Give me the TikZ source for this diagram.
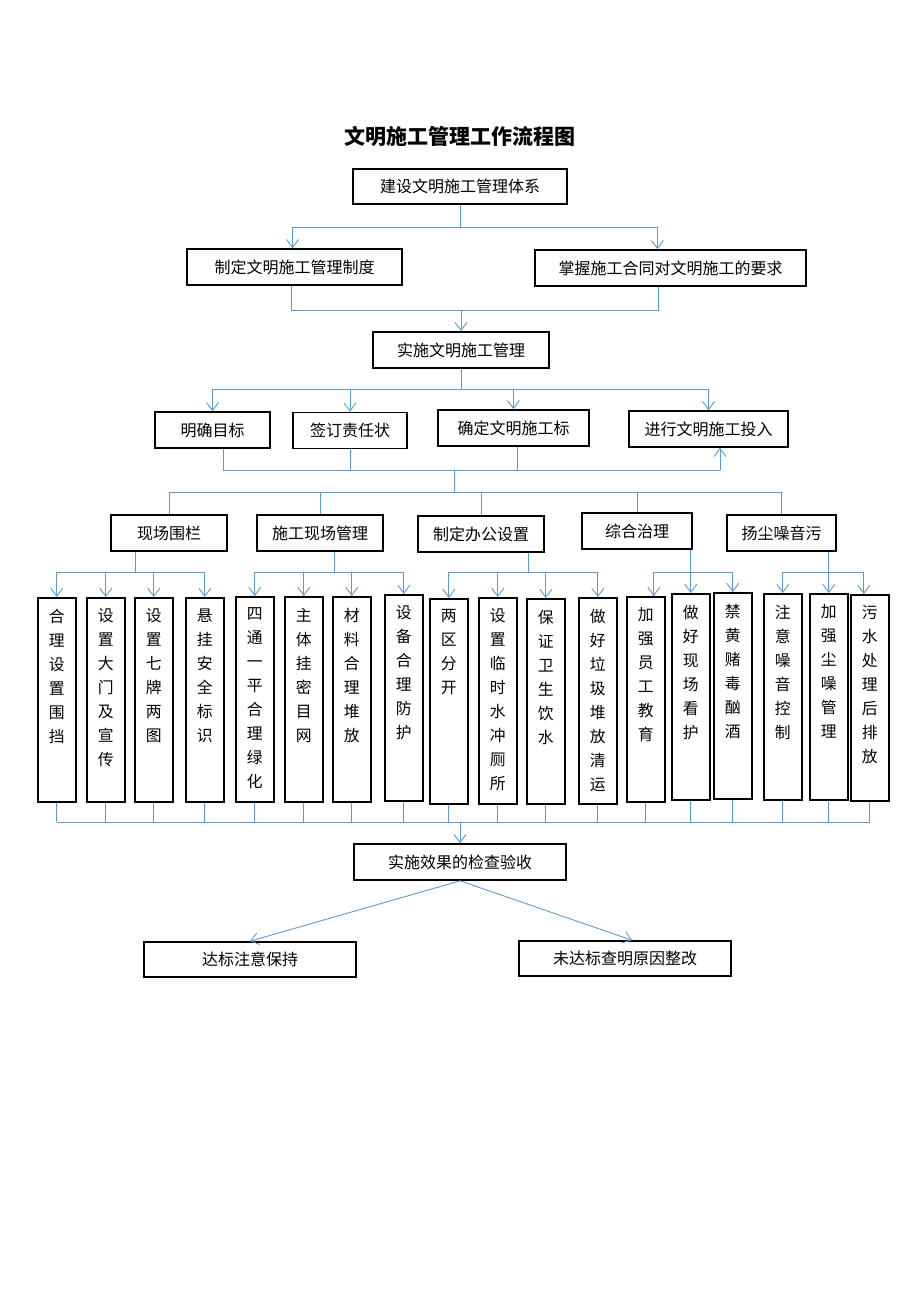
\documentclass[tikz,border=0pt]{standalone}
\usepackage{fontspec}
\setmainfont{Noto Sans CJK SC}
\usetikzlibrary{arrows.meta}
\definecolor{lnblue}{RGB}{91,155,213}
\newcommand\vtext[2]{\parbox[c][#1pt][t]{30pt}{\centering\fontsize{15.8}{24}\selectfont\vspace*{9pt}#2}}
\begin{document}
\begin{tikzpicture}[x=1pt,y=-1pt,
  hbox/.style={draw=black,line width=1.6pt,inner sep=0pt,minimum height=36pt,font=\fontsize{16}{18}\selectfont},
  colbox/.style={draw=black,line width=1.6pt,inner sep=0pt,minimum width=38pt,anchor=north west},
  ln/.style={draw=lnblue,line width=0.9pt},
  ar/.style={-{Straight Barb[length=8pt,width=12pt,line width=0.9pt]}}]
\fill[white] (0,0) rectangle (920,1302);
\useasboundingbox (0,0) rectangle (920,1302);
\node[font=\fontsize{21}{21}\bfseries\selectfont] (title) at (460,136) {文明施工管理工作流程图};
% level boxes
\node[hbox,minimum width=214pt,minimum height=35pt] (b1) at (460,186.5) {建设文明施工管理体系};
\node[hbox,minimum width=215pt] (b2a) at (294.5,267) {制定文明施工管理制度};
\node[hbox,minimum width=271pt] (b2b) at (670.5,268) {掌握施工合同对文明施工的要求};
\node[hbox,minimum width=176pt] (b3) at (461,350) {实施文明施工管理};
\node[hbox,minimum width=115pt] (m1) at (212.5,430) {明确目标};
\node[hbox,minimum width=114pt] (m2) at (350,430.5) {签订责任状};
\node[hbox,minimum width=151pt] (m3) at (513.5,428) {确定文明施工标};
\node[hbox,minimum width=159pt] (m4) at (708.5,429) {进行文明施工投入};
\node[hbox,minimum width=116pt] (r1) at (169,533) {现场围栏};
\node[hbox,minimum width=126pt] (r2) at (320,533) {施工现场管理};
\node[hbox,minimum width=126pt] (r3) at (481,534) {制定办公设置};
\node[hbox,minimum width=110pt] (r4) at (637,531) {综合治理};
\node[hbox,minimum width=109pt] (r5) at (781.5,533) {扬尘噪音污};
% columns
\node[colbox,minimum height=204pt] (c1) at (37,597) {\vtext{200}{合\\理\\设\\置\\围\\挡}};
\node[colbox,minimum height=204pt] (c2) at (86,597) {\vtext{200}{设\\置\\大\\门\\及\\宣\\传}};
\node[colbox,minimum height=204pt] (c3) at (134,597) {\vtext{200}{设\\置\\七\\牌\\两\\图}};
\node[colbox,minimum height=204pt] (c4) at (185,597) {\vtext{200}{悬\\挂\\安\\全\\标\\识}};
\node[colbox,minimum height=205pt] (c5) at (235,596) {\vtext{201}{四\\通\\一\\平\\合\\理\\绿\\化}};
\node[colbox,minimum height=205pt] (c6) at (284,596) {\vtext{201}{主\\体\\挂\\密\\目\\网}};
\node[colbox,minimum height=205pt] (c7) at (332,596) {\vtext{201}{材\\料\\合\\理\\堆\\放}};
\node[colbox,minimum height=206pt] (c8) at (384,594) {\vtext{202}{设\\备\\合\\理\\防\\护}};
\node[colbox,minimum height=205pt] (c9) at (429,598) {\vtext{201}{两\\区\\分\\开}};
\node[colbox,minimum height=206pt] (c10) at (478,597) {\vtext{202}{设\\置\\临\\时\\水\\冲\\厕\\所}};
\node[colbox,minimum height=205pt] (c11) at (526,598) {\vtext{201}{保\\证\\卫\\生\\饮\\水}};
\node[colbox,minimum height=206pt] (c12) at (578,597) {\vtext{202}{做\\好\\垃\\圾\\堆\\放\\清\\运}};
\node[colbox,minimum height=205pt] (c13) at (626,596) {\vtext{201}{加\\强\\员\\工\\教\\育}};
\node[colbox,minimum height=206pt] (c14) at (671,593) {\vtext{202}{做\\好\\现\\场\\看\\护}};
\node[colbox,minimum height=206pt] (c15) at (713,592) {\vtext{202}{禁\\黄\\赌\\毒\\酗\\酒}};
\node[colbox,minimum height=206pt] (c16) at (763,593) {\vtext{202}{注\\意\\噪\\音\\控\\制}};
\node[colbox,minimum height=206pt] (c17) at (809,593) {\vtext{202}{加\\强\\尘\\噪\\管\\理}};
\node[colbox,minimum height=206pt] (c18) at (850,594) {\vtext{202}{污\\水\\处\\理\\后\\排\\放}};
% bottom boxes
\node[hbox,minimum width=212pt] (chk) at (460,862) {实施效果的检查验收};
\node[hbox,minimum width=212pt,minimum height=35pt] (d1) at (250,959.5) {达标注意保持};
\node[hbox,minimum width=212pt,minimum height=35pt] (d2) at (625,958.5) {未达标查明原因整改};
% bus coordinates
\coordinate (bus1) at (0,227);
\coordinate (bus3) at (0,389);
\coordinate (bus4) at (0,470);
\coordinate (bus5) at (0,492);
\coordinate (j4) at (454,470);
\coordinate (g) at (0,572);
\coordinate (bb) at (0,822);
% connectors level 1-3
\draw[ln] (b1.south) -- (b1.south|-bus1);
\draw[ln,ar] (b1.south|-bus1) -| ([xshift=-2pt]b2a.north);
\draw[ln,ar] (b1.south|-bus1) -| ([xshift=-13pt]b2b.north);
\draw[ln] ([xshift=-3pt]b2a.south) -- ++(0,25) -| ([xshift=-12pt]b2b.south);
\draw[ln,ar] ([xshift=-3pt]b2a.south) ++(0,25) -| (b3.north);
% level 3-4
\draw[ln] (b3.south) -- (b3.south|-bus3);
\draw[ln] (m1.north|-bus3) -- (m4.north|-bus3);
\foreach \m in {m1,m2,m3,m4} \draw[ln,ar] (\m.north|-bus3) -- (\m.north);
% level 4 bottom bus
\draw[ln] ([xshift=10.5pt]m1.south) |- ([xshift=11.5pt]m4.south|-bus4);
\draw[ln,ar] ([xshift=11.5pt]m4.south|-bus4) -- ([xshift=11.5pt]m4.south);
\draw[ln] (m2.south) -- (m2.south|-bus4);
\draw[ln] ([xshift=3.5pt]m3.south) -- ([xshift=3.5pt]m3.south|-bus4);
\draw[ln] (j4) -- (j4|-bus5);
\draw[ln] (r1.north|-bus5) -- (r5.north|-bus5);
\foreach \r in {r1,r2,r3,r4,r5} \draw[ln] (\r.north|-bus5) -- (\r.north);
% level 5-6
\draw[ln] ([xshift=-34pt]r1.south) -- ([xshift=-34pt]r1.south|-g);
\draw[ln] (c1.north|-g) -- (c4.north|-g);
\foreach \c in {c1,c2,c3,c4} \draw[ln,ar] (\c.north|-g) -- (\c.north);
\draw[ln] ([xshift=14pt]r2.south) -- ([xshift=14pt]r2.south|-g);
\draw[ln] (c5.north|-g) -- (c8.north|-g);
\foreach \c in {c5,c6,c7,c8} \draw[ln,ar] (\c.north|-g) -- (\c.north);
\draw[ln] ([xshift=47pt]r3.south) -- ([xshift=47pt]r3.south|-g);
\draw[ln] (c9.north|-g) -- (c12.north|-g);
\foreach \c in {c9,c10,c11,c12} \draw[ln,ar] (\c.north|-g) -- (\c.north);
\draw[ln,ar] (r4.south-|c14.north) -- (c14.north);
\draw[ln] ([xshift=8pt]c13.north|-g) -- (c15.north|-g);
\draw[ln,ar] ([xshift=8pt]c13.north|-g) -- ([xshift=8pt]c13.north);
\draw[ln,ar] (c15.north|-g) -- (c15.north);
\draw[ln,ar] (r5.south-|c17.north) -- (c17.north);
\draw[ln] (c16.north|-g) -- ([xshift=-6pt]c18.north|-g);
\draw[ln,ar] (c16.north|-g) -- (c16.north);
\draw[ln,ar] ([xshift=-6pt]c18.north|-g) -- ([xshift=-6pt]c18.north);
% bottom bus
\foreach \c in {c1,c2,c3,c4,c5,c6,c7,c8,c9,c10,c11,c12,c13,c14,c15,c16,c17,c18} \draw[ln] (\c.south) -- (\c.south|-bb);
\draw[ln] (c1.south|-bb) -- (c18.south|-bb);
\draw[ln,ar] (chk.north|-bb) -- (chk.north);
\draw[ln,ar] (chk.south) -- (d1.north);
\draw[ln,ar] (chk.south) -- ([xshift=7pt]d2.north);
\end{tikzpicture}
\end{document}
